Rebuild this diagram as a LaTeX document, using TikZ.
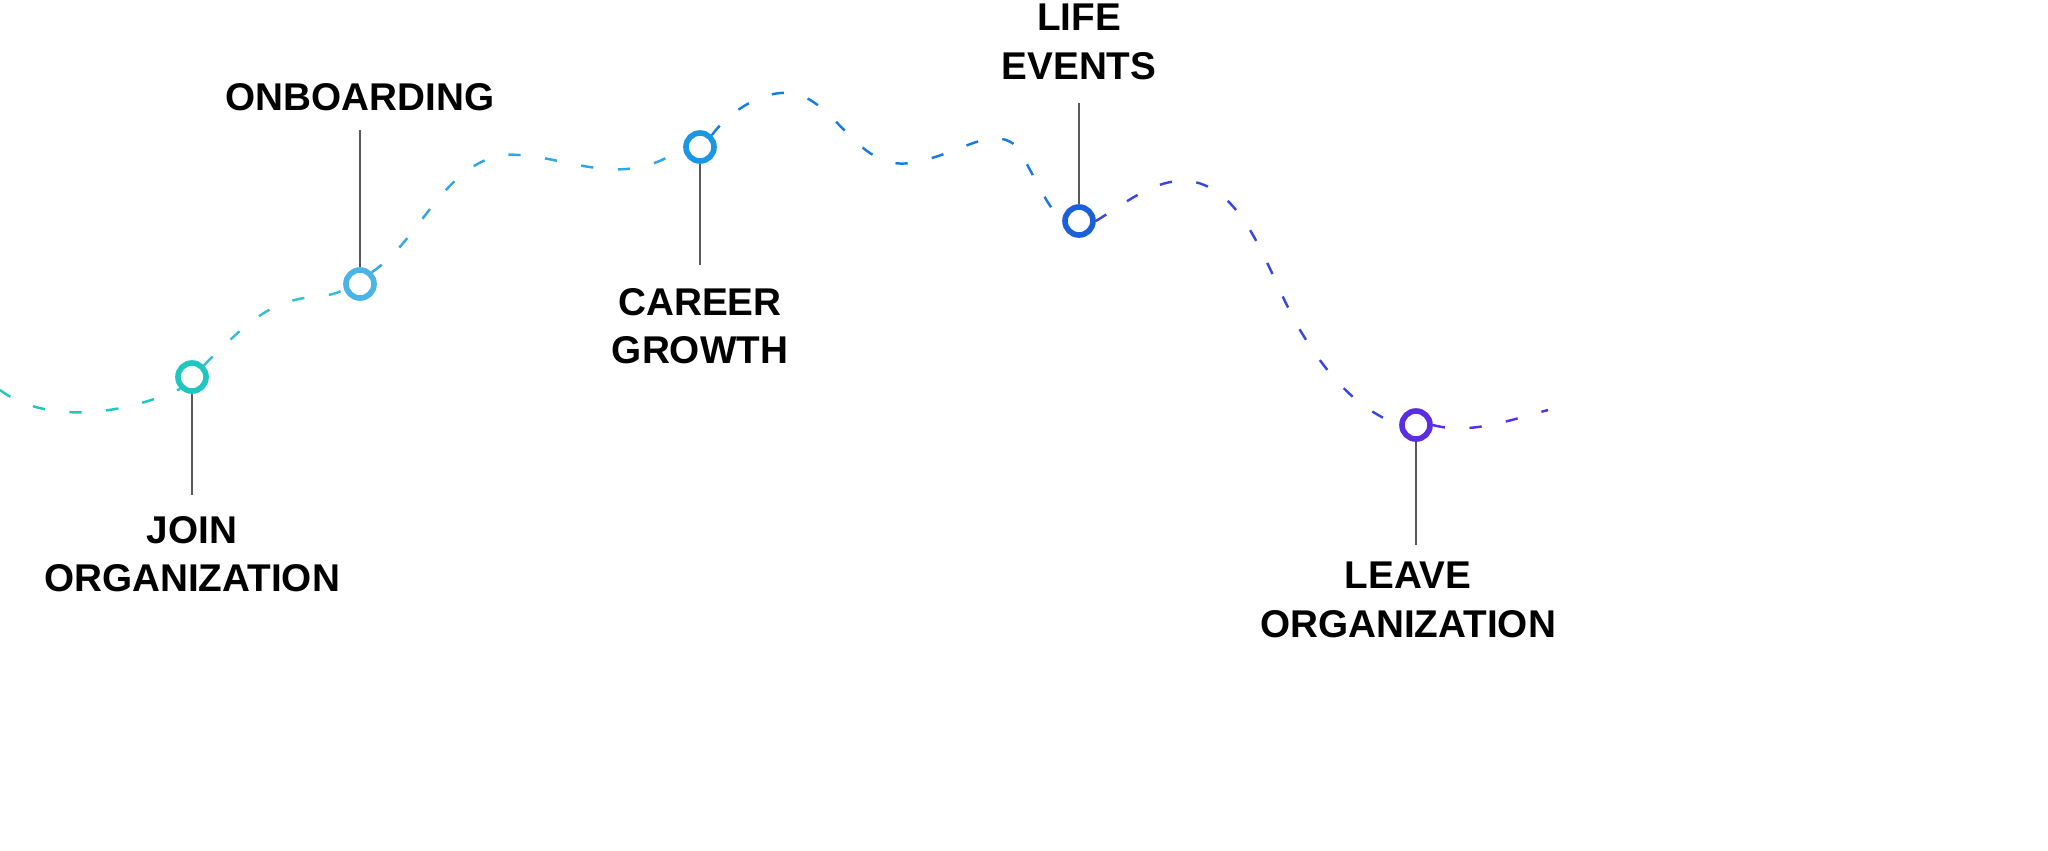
\documentclass[tikz,border=0pt]{standalone}
\usepackage{fontspec}
\setmainfont{Liberation Sans}
\begin{document}
\begin{tikzpicture}[x=0.01cm,y=-0.01cm,
  dashline/.style={dash pattern=on 3.5pt off 7pt, line width=0.7pt},
  stem/.style={draw=black!65, line width=0.8pt},
  dot/.style={circle, draw=#1, fill=white, line width=1.6pt, minimum size=0.28cm, inner sep=0pt},
  lab/.style={font=\bfseries\fontsize{11}{13.8}\selectfont, align=center}]
\useasboundingbox (0,0) rectangle (2048,850);
\definecolor{cA}{HTML}{20C6C0}\definecolor{cB}{HTML}{4AB4E6}\definecolor{cC}{HTML}{1A96E2}
\definecolor{cD}{HTML}{1A60D9}\definecolor{cE}{HTML}{5A2EE2}
\coordinate (s) at (0,390);\coordinate (e) at (1548,410);
\node[dot=cA] (j) at (192,377) {};
\node[dot=cB] (o) at (360,284) {};
\node[dot=cC] (c) at (700,147) {};
\node[dot=cD] (l) at (1079,221) {};
\node[dot=cE] (v) at (1416,425) {};
\draw[dashline,cA] (s) .. controls (40,420) and (110,420) .. (j.south west);
\draw[dashline,cA!50!cB] (j.north east) .. controls (250,320) and (270,300) .. (320,296) .. controls (340,294) and (345,290) .. (o.west);
\draw[dashline,cB!50!cC] (o.north east) .. controls (420,240) and (440,170) .. (500,155) .. controls (560,150) and (620,195) .. (c.west);
\draw[dashline,cC!50!cD] (c.north east) .. controls (730,110) and (770,85) .. (800,95) .. controls (840,110) and (860,170) .. (910,163) .. controls (960,155) and (990,125) .. (1015,145) .. controls (1030,165) and (1045,205) .. (l.west);
\draw[dashline,cD!50!cE] (l.east) .. controls (1130,200) and (1160,175) .. (1195,182) .. controls (1250,195) and (1270,280) .. (1300,330) .. controls (1330,380) and (1360,410) .. (v.west);
\draw[dashline,cE] (v.east) .. controls (1470,435) and (1510,420) .. (e);
\node[lab] (jt) at (192,554) {JOIN\\ORGANIZATION};
\node[lab] (ot) at (360,97) {ONBOARDING};
\node[lab] (ct) at (700,326) {CAREER\\GROWTH};
\node[lab] (lt) at (1079,42) {LIFE\\EVENTS};
\node[lab] (vt) at (1408,600) {LEAVE\\ORGANIZATION};
\draw[stem] (j.south) -- (192,495);
\draw[stem] (o.north) -- (360,130);
\draw[stem] (c.south) -- (700,265);
\draw[stem] (l.north) -- (1079,103);
\draw[stem] (v.south) -- (1416,545);
\end{tikzpicture}
\end{document}
